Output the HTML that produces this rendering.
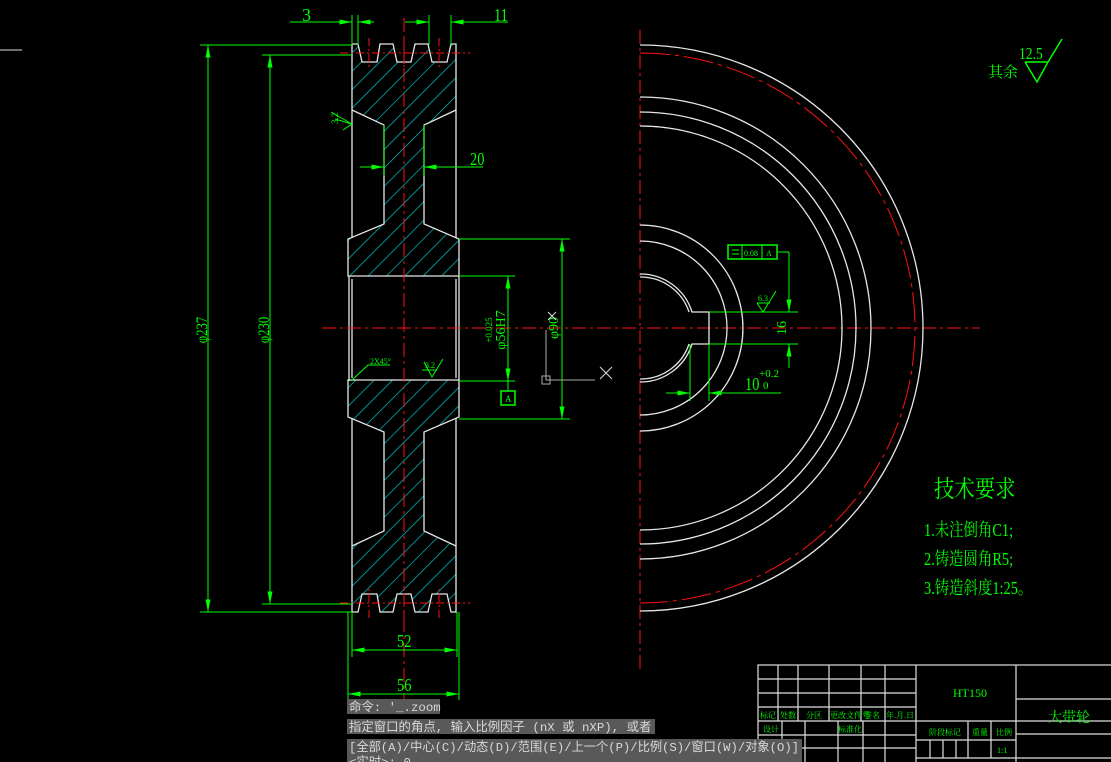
<!DOCTYPE html>
<html><head><meta charset="utf-8"><style>
html,body{margin:0;padding:0;background:#000;}
svg{display:block}
.w{stroke:#e6e6e6;stroke-width:1.3;fill:none}
.g{stroke:#00ff00;stroke-width:1;fill:none}
.r{stroke:#ff1010;stroke-width:1;fill:none;stroke-dasharray:14 4 3 4}
.t{fill:#00ff00;font-family:"Liberation Serif","Noto Serif CJK SC",serif}
.c{fill:#d8d8d8;font-family:"Liberation Mono","Noto Sans CJK SC",monospace;font-size:12.4px}
</style></head><body>
<svg width="1111" height="762" viewBox="0 0 1111 762" xmlns="http://www.w3.org/2000/svg">
<defs>
<pattern id="h" patternUnits="userSpaceOnUse" width="13" height="13" patternTransform="rotate(45)">
<line x1="0" y1="0" x2="0" y2="13" stroke="#00c8c8" stroke-width="1.4"/>
</pattern>
<marker id="a" viewBox="0 0 10 4" refX="10" refY="2" markerWidth="14" markerHeight="5" orient="auto-start-reverse" markerUnits="userSpaceOnUse"><path d="M0,0 L10,2 L0,4 z" fill="#00ff00"/></marker>
<g id="half">
<path class="w" d="M352,44 L358,44 L362,62 L377,62 L380,44 L393,44 L397,62 L411,62 L415,44 L428,44 L432,62 L447,62 L451,44 L456,44 L456,238"/>
<path class="w" d="M352,44 L352,238"/>
<path class="w" d="M352,110 L384,125 L384,224 L348,239 L348,276 L459,276 L459,239 L424,224 L424,125 L456,110"/>
<path d="M369,38 V68 M404,38 V68 M439,38 V68 M340,53 H470" stroke="#ff1010" stroke-width="1" stroke-dasharray="8 3 2 3"/>
</g>
</defs>
<line x1="0" y1="50" x2="22" y2="50" stroke="#ddd" stroke-width="1"/>
<path d="M352,44 L358,44 L362,62 L377,62 L380,44 L393,44 L397,62 L411,62 L415,44 L428,44 L432,62 L447,62 L451,44 L456,44 L456,110 L424,125 L424,224 L459,239 L459,276 L348,276 L348,239 L384,224 L384,125 L352,110 Z" fill="url(#h)" stroke="none"/>
<path d="M352,612 L358,612 L362,594 L377,594 L380,612 L393,612 L397,594 L411,594 L415,612 L428,612 L432,594 L447,594 L451,612 L456,612 L456,546 L424,531 L424,432 L459,417 L459,380 L348,380 L348,417 L384,432 L384,531 L352,546 Z" fill="url(#h)" stroke="none"/>
<use href="#half"/>
<use href="#half" transform="translate(0,656) scale(1,-1)"/>
<path class="w" d="M349,276 V381 M459,276 V381 M352,279 V378 M456,279 V378"/>
<line class="r" x1="404" y1="18" x2="404" y2="700"/>
<line class="r" x1="322" y1="328" x2="980" y2="328"/>
<path class="g" d="M200,45 H352 M200,612 H352 M262,55 H352 M262,604 H352"/>
<line class="g" x1="208" y1="45" x2="208" y2="612" marker-start="url(#a)" marker-end="url(#a)"/>
<line class="g" x1="270" y1="55" x2="270" y2="604" marker-start="url(#a)" marker-end="url(#a)"/>
<text class="t" font-size="16" transform="translate(207,330) rotate(-90) scale(0.8,1)" text-anchor="middle">φ237</text>
<text class="t" font-size="16" transform="translate(269,330) rotate(-90) scale(0.8,1)" text-anchor="middle">φ230</text>
<path class="g" d="M352,15 V45 M358,15 V45 M429,15 V45 M451,15 V45"/>
<line class="g" x1="290" y1="22" x2="352" y2="22" marker-end="url(#a)"/><line class="g" x1="358" y1="22" x2="374" y2="22" marker-start="url(#a)"/>
<line class="g" x1="405" y1="22" x2="429" y2="22" marker-end="url(#a)"/><line class="g" x1="451" y1="22" x2="508" y2="22" marker-start="url(#a)"/>
<text class="t" font-size="18" x="302" y="21">3</text>
<text class="t" font-size="18" transform="translate(494,21) scale(0.8,1)">11</text>
<line class="g" x1="360" y1="167" x2="384" y2="167" marker-end="url(#a)"/><line class="g" x1="424" y1="167" x2="483" y2="167" marker-start="url(#a)"/>
<path class="g" d="M384,125 V176 M424,125 V176"/>
<text class="t" font-size="18" transform="translate(470,165) scale(0.8,1)">20</text>
<path class="g" d="M331,112 L352,124 M335,119 L352,124 L343,130"/>
<text class="t" font-size="9" transform="translate(338,124) rotate(-90)">3.2</text>
<path class="g" d="M459,276 H515 M459,381 H515 M459,239 H570 M459,419 H570"/>
<line class="g" x1="508" y1="276" x2="508" y2="381" marker-start="url(#a)" marker-end="url(#a)"/>
<line class="g" x1="562" y1="239" x2="562" y2="419" marker-start="url(#a)" marker-end="url(#a)"/>
<text class="t" font-size="14" transform="translate(505,330) rotate(-90)" text-anchor="middle">φ56H7</text>
<text class="t" font-size="9" transform="translate(492,330) rotate(-90)" text-anchor="middle">+0.025</text>
<text class="t" font-size="14" transform="translate(558,328) rotate(-90)" text-anchor="middle">φ90</text>
<path class="g" d="M508,381 V391"/>
<rect x="501" y="391" width="14" height="14" fill="none" stroke="#00ff00" stroke-width="1.5"/>
<text class="t" font-size="9" x="505" y="402">A</text>
<path class="g" d="M351,381 L368,365 H390"/>
<text class="t" font-size="8" x="370" y="364">2X45°</text>
<path class="g" d="M424,362 L432,377 L443,359 M422,370 H437"/>
<text class="t" font-size="8" x="425" y="368">3.2</text>
<path d="M546,330 V380 H595" stroke="#aaa" stroke-width="1" fill="none"/>
<rect x="542" y="376" width="8" height="8" fill="none" stroke="#aaa"/>
<path d="M600,367 L612,379 M612,367 L600,379" stroke="#ddd"/>
<path d="M548,312 L556,320 M556,312 L548,320" stroke="#ddd"/>
<path class="g" d="M352,612 V657 M457,612 V657 M348,612 V700 M459,612 V700"/>
<line class="g" x1="352" y1="650" x2="457" y2="650" marker-start="url(#a)" marker-end="url(#a)"/>
<line class="g" x1="348" y1="694" x2="459" y2="694" marker-start="url(#a)" marker-end="url(#a)"/>
<text class="t" font-size="18" transform="translate(397,647) scale(0.8,1)">52</text>
<text class="t" font-size="18" transform="translate(397,691) scale(0.8,1)">56</text>
<line class="r" x1="640" y1="30" x2="640" y2="670"/>
<path class="w" d="M640,45 A283,283 0 0 1 640,611"/>
<path d="M640,53 A275,275 0 0 1 640,603" stroke="#ff1010" fill="none" stroke-dasharray="30 5 4 5"/>
<path class="w" d="M640,97 A231,231 0 0 1 640,559 M640,112 A216,216 0 0 1 640,544 M640,126 A202,202 0 0 1 640,530 M640,225 A103,103 0 0 1 640,431 M640,241 A87,87 0 0 1 640,415"/>
<path class="w" d="M640,274 A54,54 0 0 1 692,312 H709 V344 H692 A54,54 0 0 1 640,382 M640,277 A51,51 0 0 1 689,312 M689,344 A51,51 0 0 1 640,379"/>
<path class="g" d="M709,312 H798 M709,344 H798 M690,344 V401 M709,344 V401"/>
<line class="g" x1="789" y1="252" x2="789" y2="312" marker-end="url(#a)"/>
<line class="g" x1="789" y1="344" x2="789" y2="368" marker-start="url(#a)"/>
<path class="g" d="M778,252 H789"/>
<text class="t" font-size="14" transform="translate(786,328) rotate(-90)" text-anchor="middle">16</text>
<line class="g" x1="666" y1="393" x2="690" y2="393" marker-end="url(#a)"/>
<line class="g" x1="709" y1="393" x2="781" y2="393" marker-start="url(#a)"/>
<text class="t" font-size="18" transform="translate(745,390) scale(0.8,1)">10</text>
<text class="t" font-size="11" x="759" y="377">+0.2</text>
<text class="t" font-size="11" x="763" y="389">0</text>
<rect x="728" y="245" width="49" height="14" fill="none" stroke="#00ff00" stroke-width="1.5"/>
<path class="g" d="M742,245 V259 M762,245 V259 M732,250 H739 M732,254 H739"/>
<text class="t" font-size="8" x="744" y="256">0.08</text>
<text class="t" font-size="8" x="766" y="256">A</text>
<path class="g" d="M757,303 L763,312 L776,291 M757,303 H770"/>
<text class="t" font-size="8" x="758" y="301">6.3</text>
<text class="t" font-size="15" x="988" y="77">其余</text>
<text class="t" font-size="17" transform="translate(1019,59) scale(0.8,1)">12.5</text>
<path d="M1025,62 L1037,82 L1048,62 L1062,39 M1025,62 H1048" stroke="#00ff00" stroke-width="1.5" fill="none"/>
<text class="t" font-size="24" transform="translate(934,497) scale(0.85,1)">技术要求</text>
<text class="t" font-size="18" transform="translate(924,536) scale(0.8,1)">1.未注倒角C1;</text>
<text class="t" font-size="18" transform="translate(924,565) scale(0.8,1)">2.铸造圆角R5;</text>
<text class="t" font-size="18" transform="translate(924,594) scale(0.8,1)">3.铸造斜度1:25。</text>
<g stroke="#e0e0e0" stroke-width="1.2" fill="none">
<rect x="758" y="665" width="360" height="100"/>
<path d="M758,679 H916 M758,693 H916 M758,707 H916 M758,721 H1111 M916,740 H1016 M916,758 H1111 M1016,699 H1111 M1016,734 H1111"/>
<path d="M916,665 V762 M1016,665 V762"/>
<path d="M778,665 V721 M798,665 V721 M829,665 V721 M861,665 V721 M885,665 V721"/>
<path d="M782,721 V762 M805,721 V762 M838,721 V762 M863,721 V762 M885,721 V762 M758,735 H916 M758,748 H916"/>
<path d="M968,721 V758 M991,721 V758 M930,740 V758 M943,740 V758 M956,740 V758"/>
</g>
<g class="t" font-size="8">
<text x="760" y="718">标记</text><text x="780" y="718">处数</text><text x="806" y="718">分区</text><text x="830" y="718">更改文件号</text><text x="864" y="718">签名</text><text x="886" y="718">年.月.日</text>
<text x="763" y="732">设计</text><text x="838" y="732">标准化</text>
<text x="929" y="735">阶段标记</text><text x="972" y="735">重量</text><text x="996" y="735">比例</text>
<text x="997" y="753">1:1</text>
</g>
<text class="t" font-size="12" x="953" y="697">HT150</text>
<text class="t" font-size="14" x="1048" y="722">大带轮</text>
<rect x="347" y="699" width="93" height="15" fill="#595959"/>
<rect x="347" y="719" width="308" height="15" fill="#595959"/>
<rect x="347" y="739" width="455" height="23" fill="#595959"/>
<text class="c" x="349" y="711">命令: '_.zoom</text>
<text class="c" x="349" y="731">指定窗口的角点, 输入比例因子 (nX 或 nXP), 或者</text>
<text class="c" x="349" y="751" textLength="450" lengthAdjust="spacingAndGlyphs">[全部(A)/中心(C)/动态(D)/范围(E)/上一个(P)/比例(S)/窗口(W)/对象(O)]</text>
<text class="c" x="349" y="766">&lt;实时&gt;: 0</text>
</svg>
</body></html>
